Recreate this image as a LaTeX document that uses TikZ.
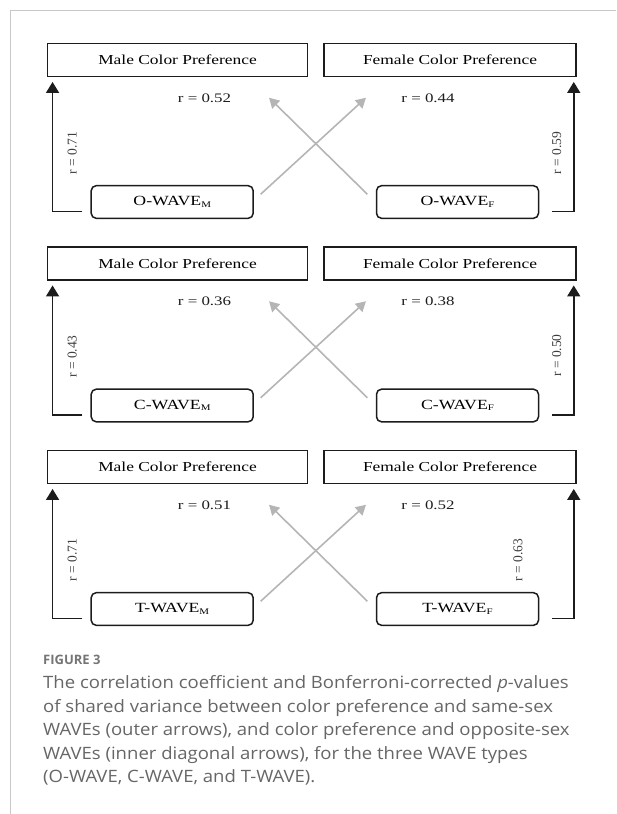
\documentclass[tikz,border=0pt]{standalone}
\usepackage{fontspec}
\setmainfont{Liberation Serif}
\newfontfamily\capfont[FakeStretch=1.09]{Open Sans}
\newfontfamily\figfont{Open Sans}
\usetikzlibrary{arrows.meta,calc}
\newcommand{\hs}[1]{\scalebox{1.27}[1]{#1}}
\newcommand{\wavelab}[2]{\hs{#1-WAVE\raisebox{-1.5pt}{\fontsize{8.6}{9}\selectfont #2}}}
\definecolor{framegray}{HTML}{C8C8C8}
\definecolor{diaggray}{HTML}{B5B5B5}
\definecolor{capgray}{HTML}{666666}
\definecolor{figgray}{HTML}{757575}
\definecolor{ink}{HTML}{1C1C1C}
\tikzset{
  pbox/.style={draw=ink, line width=1.5pt, minimum height=33.4pt, inner sep=0pt,
    font=\fontsize{13.7}{16}\selectfont},
  wbox/.style={draw=ink, line width=1.5pt, rounded corners=5pt, minimum width=162pt,
    minimum height=32.6pt, inner sep=0pt, font=\fontsize{14}{16}\selectfont},
  blk/.style={draw=ink, line width=1.6pt, -{Triangle[length=11pt,width=13pt]}},
  gry/.style={draw=diaggray, line width=1.6pt, -{Triangle[length=10pt,width=11pt]}},
  rlab/.style={inner sep=0pt, text=ink, font=\fontsize{13}{15}\selectfont},
  vlab/.style={inner sep=0pt, rotate=90, text=ink!85, font=\fontsize{13.5}{15}\selectfont},
}
\newcommand{\wpanel}[8]{%
  \node[pbox, minimum width=260.4pt] (m#1) at (177.5,60) {\hs{Male Color Preference}};
  \node[pbox, minimum width=252pt] (f#1) at (450,60) {\hs{Female Color Preference}};
  \node[wbox] (wm#1) at (172.2,202) {\wavelab{#2}{M}};
  \node[wbox] (wf#1) at (457.5,202) {\wavelab{#2}{F}};
  \draw[blk] ($(wm#1.west)+(-8,9.5)$) -| ($(m#1.south west)+(6,4.5)$);
  \draw[blk] ($(wf#1.east)+(13,9.5)$) -| ($(f#1.south east)+(-3,4.5)$);
  \draw[gry] ($(wm#1.north east)+(6.7,9.3)$) -- ($(f#1.south west)+(42.7,20.3)$);
  \draw[gry] ($(wf#1.north west)+(-8.4,9.3)$) -- ($(m#1.south east)+(-39.4,20.3)$);
  \node[rlab] (ra#1) at (204.5,98) {\scalebox{1.3}[1]{r = #3}};
  \node[rlab] (rb#1) at (428,98) {\scalebox{1.3}[1]{r = #4}};
  \node[vlab] (va#1) at (72.3,153) {r = #5};
  \node[vlab] (vb#1) at (#7,#8) {r = #6};
}
\begin{document}
\begin{tikzpicture}[x=1pt,y=-1pt]
\useasboundingbox (0,0) rectangle (616,814);
\draw[framegray, line width=1pt] (616,10) -- (10,10) -- (10,814);
\begin{scope}
  \wpanel{1}{O}{0.52}{0.44}{0.71}{0.59}{556.7}{153}
\end{scope}
\begin{scope}[yshift=-203.5pt]
  \wpanel{2}{C}{0.36}{0.38}{0.43}{0.50}{556.7}{152}
\end{scope}
\begin{scope}[yshift=-407pt]
  \wpanel{3}{T}{0.51}{0.52}{0.71}{0.63}{518}{153}
\end{scope}
\node[anchor=base west, inner sep=0pt, text=figgray, font=\figfont\bfseries\fontsize{13}{15}\selectfont] (fig) at (43,664) {FIGURE 3};
\node[anchor=north west, inner sep=0pt, align=left, text=capgray, font=\capfont\fontsize{17}{23.5}\selectfont] (cap) at (43,675.5)
  {The correlation coefficient and Bonferroni-corrected \textit{p}-values\\
   of shared variance between color preference and same-sex\\
   WAVEs (outer arrows), and color preference and opposite-sex\\
   WAVEs (inner diagonal arrows), for the three WAVE types\\
   (O-WAVE, C-WAVE, and T-WAVE).};
\end{tikzpicture}
\end{document}
